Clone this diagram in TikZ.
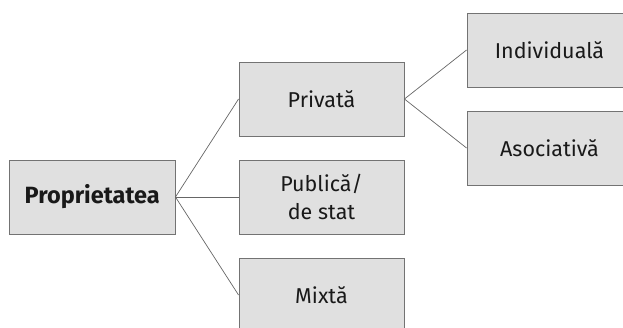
\documentclass[tikz,border=0pt]{standalone}
\usepackage{fontspec}
\setmainfont{Fira Sans}
\begin{document}
\begin{tikzpicture}[x=1pt,y=-1pt,
  boxst/.style={draw=black!55,fill=black!12,line width=0.9pt,minimum width=165pt,minimum height=74pt,inner sep=0pt,align=center,font=\fontsize{21.5}{28}\selectfont,text=black!90},
  link/.style={draw=black!60,line width=0.7pt}]
\useasboundingbox (0,0) rectangle (623,327);
\node[boxst,minimum width=165.5pt,font=\fontsize{23.5}{28}\selectfont\bfseries] (prop) at (92.25,197) {Proprietatea};
\node[boxst] (priv) at (321.5,99) {Privată};
\node[boxst] (pub) at (321.5,197) {Publică/\\de stat};
\node[boxst] (mix) at (321.5,295) {Mixtă};
\node[boxst] (ind) at (549.5,50) {Individuală};
\node[boxst] (asoc) at (549.5,148) {Asociativă};
\draw[link] (prop.east) -- (priv.west);
\draw[link] (prop.east) -- (pub.west);
\draw[link] (prop.east) -- (mix.west);
\draw[link] (priv.east) -- (ind.west);
\draw[link] (priv.east) -- (asoc.west);
\end{tikzpicture}
\end{document}
